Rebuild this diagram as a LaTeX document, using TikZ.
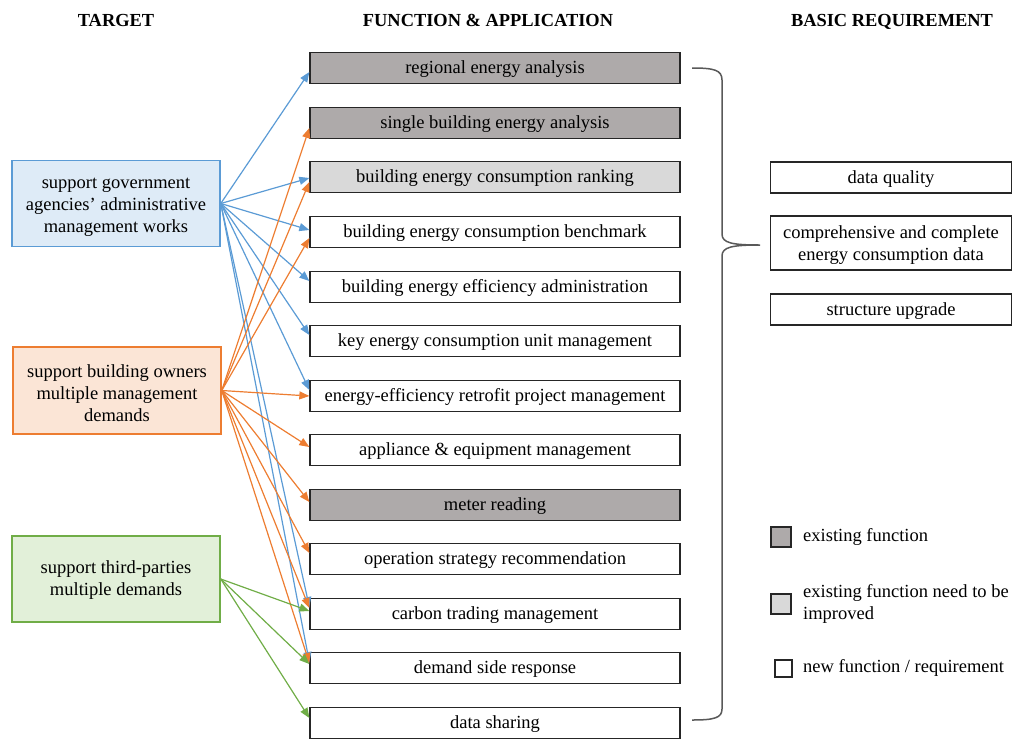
\documentclass[tikz,border=0pt]{standalone}
\usepackage{fontspec}
\setmainfont{Liberation Serif}
\usetikzlibrary{arrows.meta}
\definecolor{govline}{HTML}{5B9BD5}
\definecolor{govfill}{HTML}{DEEBF7}
\definecolor{ownline}{HTML}{ED7D31}
\definecolor{ownfill}{HTML}{FBE5D6}
\definecolor{thdline}{HTML}{70AD47}
\definecolor{thdfill}{HTML}{E2F0D9}
\definecolor{existfill}{HTML}{AEAAAA}
\definecolor{improvefill}{HTML}{D9D9D9}
\definecolor{boxline}{HTML}{262626}
\definecolor{braceline}{HTML}{595959}
\begin{document}
\begin{tikzpicture}[x=1pt,y=-1pt,
  font=\fontsize{18.5}{22}\selectfont,
  head/.style={font=\fontsize{18.4}{22}\selectfont\bfseries,
    inner sep=0pt, text height=13pt, text depth=0pt},
  func/.style={draw=boxline, line width=1.3pt, minimum width=370pt,
    minimum height=31pt, inner sep=0pt, text height=15pt, text depth=4pt},
  target/.style={line width=1.5pt, minimum width=208pt, minimum height=86pt,
    inner sep=0pt},
  ttext/.style={align=center, inner sep=0pt},
  req/.style={draw=boxline, line width=1.3pt, minimum width=241pt,
    inner sep=0pt, align=center},
  legbox/.style={draw=boxline, line width=1.3pt, inner sep=0pt},
  legtext/.style={anchor=west, align=left, inner sep=0pt},
  link/.style={line width=1.2pt, -{Triangle[length=10pt,width=8pt]}},
  gova/.style={link, govline},
  owna/.style={link, ownline},
  thda/.style={link, thdline}]
\useasboundingbox (0,0) rectangle (1012,740);

% column headings
\node[head] (h1) at (116,19.5) {TARGET};
\node[head] (h2) at (488,19.5) {FUNCTION \& APPLICATION};
\node[head] (h3) at (892,19.5) {BASIC REQUIREMENT};

% targets
\node[target, draw=govline, fill=govfill] (gov) at (116,203.5) {};
\node[ttext] (govt) at ([yshift=-4pt]gov.center)
  {support government\\agencies’ administrative\\management works};
\node[target, draw=ownline, fill=ownfill, minimum height=87pt] (own) at (117,390.5) {};
\node[ttext] (ownt) at ([yshift=-3pt]own.center)
  {support building owners\\multiple management\\demands};
\node[target, draw=thdline, fill=thdfill] (thd) at (116,579) {};
\node[ttext] (thdt) at ([yshift=-1pt]thd.center)
  {support third-parties\\multiple demands};

% functions and applications
\node[func, fill=existfill]   (f1)  at (495,68)  {regional energy analysis};
\node[func, fill=existfill]   (f2)  at (495,123) {single building energy analysis};
\node[func, fill=improvefill] (f3)  at (495,177) {building energy consumption ranking};
\node[func] (f4)  at (495,232) {building energy consumption benchmark};
\node[func] (f5)  at (495,287) {building energy efficiency administration};
\node[func] (f6)  at (495,341) {key energy consumption unit management};
\node[func] (f7)  at (495,396) {energy-efficiency retrofit project management};
\node[func] (f8)  at (495,450) {appliance \& equipment management};
\node[func, fill=existfill]   (f9)  at (495,505) {meter reading};
\node[func] (f10) at (495,559) {operation strategy recommendation};
\node[func] (f11) at (495,614) {carbon trading management};
\node[func] (f12) at (495,668) {demand side response};
\node[func] (f13) at (495,723) {data sharing};

% basic requirements
\node[req, minimum height=31pt, text height=15pt, text depth=4pt] (r1) at (891,177.5) {data quality};
\node[req, minimum height=54pt] (r2) at (891,243) {};
\node[ttext] (r2t) at ([yshift=-2pt]r2.center)
  {comprehensive and complete\\energy consumption data};
\node[req, minimum height=31pt, text height=15pt, text depth=4pt] (r3) at (891,309.5) {structure upgrade};

% brace gathering all functions
\draw[braceline, line width=1.5pt]
  (692,68) .. controls (714,68) and (722,70) .. (722,80)
  -- (722,234) .. controls (722,243) and (732,245) .. (760,245)
  (760,245) .. controls (732,245) and (722,247) .. (722,256)
  -- (722,709) .. controls (722,718) and (714,720) .. (692,720);

% legend
\node[legbox, fill=existfill, minimum size=20pt] (l1) at (781,537) {};
\node[legtext] (t1) at (803,537) {existing function};
\node[legbox, fill=improvefill, minimum size=20pt] (l2) at (781,604) {};
\node[legtext] (t2) at (803,604) {existing function need to be\\improved};
\node[legbox, minimum size=17pt] (l3) at (783.5,668.5) {};
\node[legtext] (t3) at (803,668) {new function / requirement};

% government links
\draw[gova] (gov.east) -- ([yshift=-4pt]f1.west);
\draw[gova] (gov.east) -- ([yshift=-1pt]f3.west);
\draw[gova] (gov.east) -- ([yshift=2pt]f4.west);
\draw[gova] (gov.east) -- ([yshift=6pt]f5.west);
\draw[gova] (gov.east) -- ([yshift=6pt]f6.west);
\draw[gova] (gov.east) -- ([yshift=6pt]f7.west);
\draw[gova] (gov.east) -- ([yshift=7pt]f11.west);
\draw[gova] (gov.east) -- ([yshift=6pt]f12.west);

% building owner links
\draw[owna] (own.east) -- ([yshift=-5pt]f2.west);
\draw[owna] (own.east) -- ([yshift=-5pt]f3.west);
\draw[owna] (own.east) -- ([yshift=-6pt]f4.west);
\draw[owna] (own.east) -- (f7.west);
\draw[owna] (own.east) -- ([yshift=3pt]f8.west);
\draw[owna] (own.east) -- ([yshift=3pt]f9.west);
\draw[owna] (own.east) -- ([yshift=6pt]f10.west);
\draw[owna] (own.east) -- ([yshift=6pt]f11.west);
\draw[owna] (own.east) -- ([yshift=5pt]f12.west);

% third-party links
\draw[thda] (thd.east) -- ([yshift=3pt]f11.west);
\draw[thda] (thd.east) -- ([yshift=4pt]f12.west);
\draw[thda] (thd.east) -- ([yshift=5pt]f13.west);
\end{tikzpicture}
\end{document}
